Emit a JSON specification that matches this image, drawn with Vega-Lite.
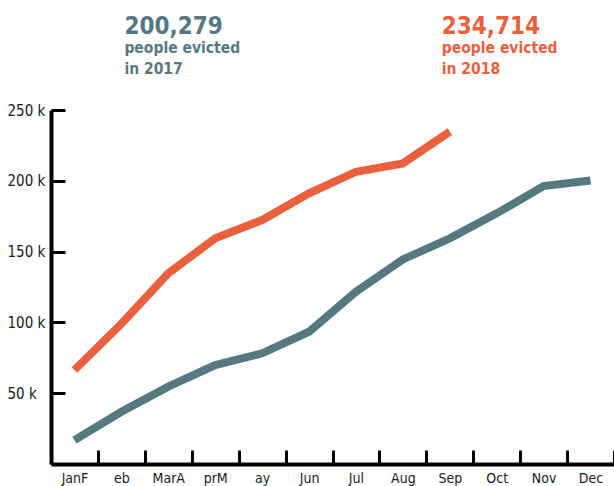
{
  "$schema": "https://vega.github.io/schema/vega-lite/v6.json",
  "width": 563,
  "height": 354,
  "autosize": "none",
  "padding": {"left": 51, "top": 110, "right": 0, "bottom": 22},
  "config": {
    "view": {"stroke": null},
    "font": "'DejaVu Sans Condensed', 'Open Sans', sans-serif",
    "axis": {"grid": false, "title": null, "domainColor": "#000000", "tickColor": "#000000", "labelColor": "#1a1a1a", "labelFont": "'DejaVu Sans Condensed', 'Open Sans', sans-serif"}
  },
  "datasets": {
    "evictions": [
      {"year": "2017", "month": "Jan", "cumulative": 16900},
      {"year": "2017", "month": "Feb", "cumulative": 36900},
      {"year": "2017", "month": "Mar", "cumulative": 54600},
      {"year": "2017", "month": "Apr", "cumulative": 69900},
      {"year": "2017", "month": "May", "cumulative": 78200},
      {"year": "2017", "month": "Jun", "cumulative": 93400},
      {"year": "2017", "month": "Jul", "cumulative": 121700},
      {"year": "2017", "month": "Aug", "cumulative": 144500},
      {"year": "2017", "month": "Sep", "cumulative": 159400},
      {"year": "2017", "month": "Oct", "cumulative": 177000},
      {"year": "2017", "month": "Nov", "cumulative": 196300},
      {"year": "2017", "month": "Dec", "cumulative": 200279},
      {"year": "2018", "month": "Jan", "cumulative": 66400},
      {"year": "2018", "month": "Feb", "cumulative": 99000},
      {"year": "2018", "month": "Mar", "cumulative": 134700},
      {"year": "2018", "month": "Apr", "cumulative": 159400},
      {"year": "2018", "month": "May", "cumulative": 172300},
      {"year": "2018", "month": "Jun", "cumulative": 191200},
      {"year": "2018", "month": "Jul", "cumulative": 206400},
      {"year": "2018", "month": "Aug", "cumulative": 212300},
      {"year": "2018", "month": "Sep", "cumulative": 234714}
    ],
    "notes": [
      {"year": "2017", "month": "Feb", "total": "200,279", "caption": "people evicted\nin 2017"},
      {"year": "2018", "month": "Sep", "total": "234,714", "caption": "people evicted\nin 2018"}
    ]
  },
  "encoding": {
    "x": {
      "field": "month",
      "type": "ordinal",
      "sort": ["Jan", "Feb", "Mar", "Apr", "May", "Jun", "Jul", "Aug", "Sep", "Oct", "Nov", "Dec"],
      "scale": {"type": "band", "paddingInner": 0, "paddingOuter": 0, "domain": ["Jan", "Feb", "Mar", "Apr", "May", "Jun", "Jul", "Aug", "Sep", "Oct", "Nov", "Dec"]},
      "axis": {
        "domainWidth": 4,
        "tickWidth": 3,
        "tickSize": -14,
        "tickBand": "extent",
        "labelAngle": 0,
        "labelFontSize": 14,
        "labelBaseline": "alphabetic",
        "labelPadding": 32.5,
        "labelExpr": "{'Jan':'JanF','Feb':'eb','Mar':'MarA','Apr':'prM','May':'ay'}[datum.value] || datum.value"
      }
    },
    "color": {
      "field": "year",
      "type": "nominal",
      "scale": {"domain": ["2017", "2018"], "range": ["#56797F", "#E9603E"]},
      "legend": null
    }
  },
  "layer": [
    {
      "data": {"name": "evictions"},
      "mark": {"type": "line", "strokeWidth": 8, "strokeCap": "butt", "strokeJoin": "miter"},
      "encoding": {
        "y": {
          "field": "cumulative",
          "type": "quantitative",
          "scale": {"domain": [0, 250000], "nice": false, "zero": true},
          "axis": {
            "values": [50000, 100000, 150000, 200000, 250000],
            "labelExpr": "datum.value / 1000 + ' k'",
            "domainWidth": 4,
            "tickWidth": 3,
            "tickSize": -14,
            "labelAlign": "left",
            "labelPadding": 58,
            "labelFontSize": 15
          }
        }
      }
    },
    {
      "data": {"name": "notes"},
      "transform": [{"filter": "datum.year == '2017'"}],
      "mark": {"type": "text", "align": "left", "baseline": "alphabetic", "dx": 3, "fontSize": 24, "fontWeight": "bold"},
      "encoding": {
        "y": {"datum": 303400, "type": "quantitative"},
        "text": {"field": "total"}
      }
    },
    {
      "data": {"name": "notes"},
      "transform": [{"filter": "datum.year == '2018'"}],
      "mark": {"type": "text", "align": "left", "baseline": "alphabetic", "dx": -8, "fontSize": 24, "fontWeight": "bold"},
      "encoding": {
        "y": {"datum": 303400, "type": "quantitative"},
        "text": {"field": "total"}
      }
    },
    {
      "data": {"name": "notes"},
      "transform": [{"filter": "datum.year == '2017'"}],
      "mark": {"type": "text", "align": "left", "baseline": "alphabetic", "dx": 3, "fontSize": 15.5, "fontWeight": "bold", "lineBreak": "\n", "lineHeight": 20.7},
      "encoding": {
        "y": {"datum": 290040, "type": "quantitative"},
        "text": {"field": "caption"}
      }
    },
    {
      "data": {"name": "notes"},
      "transform": [{"filter": "datum.year == '2018'"}],
      "mark": {"type": "text", "align": "left", "baseline": "alphabetic", "dx": -8, "fontSize": 15.5, "fontWeight": "bold", "lineBreak": "\n", "lineHeight": 20.7},
      "encoding": {
        "y": {"datum": 290040, "type": "quantitative"},
        "text": {"field": "caption"}
      }
    }
  ]
}
